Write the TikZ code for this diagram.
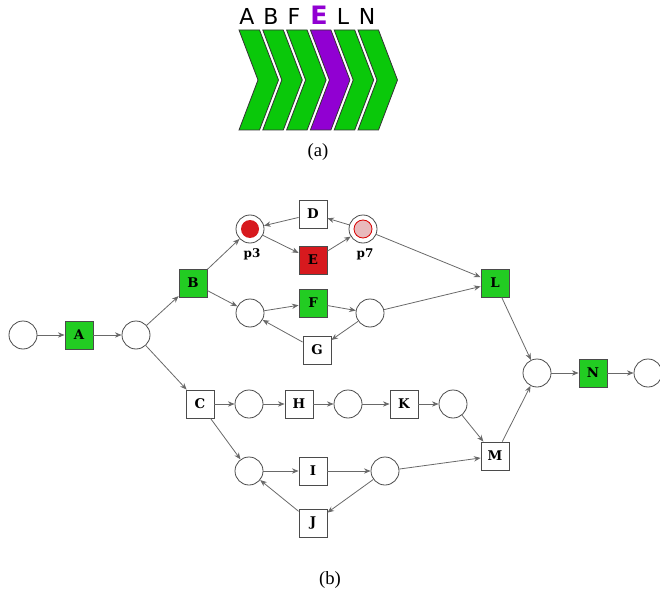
\documentclass[tikz,border=0pt]{standalone}
\usepackage{fontspec}
\setmainfont{Liberation Serif}
\newfontfamily\labfont{DejaVu Serif}
\newfontfamily\topfont{DejaVu Sans}
\usetikzlibrary{arrows.meta}
\definecolor{tgreen}{RGB}{34,204,34}
\definecolor{cgreen}{RGB}{10,200,10}
\definecolor{cpurple}{RGB}{145,0,210}
\definecolor{tred}{RGB}{215,25,30}
\definecolor{tpink}{RGB}{232,185,188}
\definecolor{edgegray}{RGB}{105,105,105}
\definecolor{bordergray}{RGB}{75,75,75}
\tikzset{
  place/.style={circle, draw=bordergray, line width=0.6pt, minimum size=21pt, inner sep=0pt, fill=white},
  trans/.style={rectangle, draw=bordergray, line width=0.6pt, minimum size=21pt, inner sep=0pt, fill=white,
    font=\labfont\fontsize{10}{12}\selectfont\bfseries},
  gtrans/.style={trans, fill=tgreen},
  rtrans/.style={trans, fill=tred},
  plab/.style={font=\labfont\fontsize{9}{11}\selectfont\bfseries, inner sep=0pt},
  arc/.style={draw=edgegray, line width=0.6pt, -{Stealth[length=5pt,width=4pt]}},
  chev/.style={draw=black!80, line width=0.6pt},
  toplet/.style={font=\topfont\fontsize{16.5}{18}\selectfont, inner sep=0pt, anchor=base},
  captext/.style={font=\fontsize{14}{16}\selectfont, inner sep=0pt}
}
\begin{document}
\begin{tikzpicture}[x=0.75pt,y=-0.75pt]
\useasboundingbox (0,0) rectangle (660,599);
% chevrons
\foreach \i/\c in {0/cgreen,1/cgreen,2/cgreen,3/cpurple,4/cgreen,5/cgreen}{
  \begin{scope}[xshift=\i*23.8*0.75pt]
  \draw[chev, fill=\c] (239,30) -- (259.5,30) -- (278.5,80) -- (259.5,130) -- (239,130) -- (258,80) -- cycle;
  \end{scope}
}
\node[toplet] (la) at (247,25) {A};
\node[toplet] (lb) at (271,25) {B};
\node[toplet] (lf) at (294,25) {F};
\node[toplet, font=\topfont\fontsize{19}{20}\selectfont\bfseries, text=cpurple] (le) at (319,25) {E};
\node[toplet] (ll) at (343,25) {L};
\node[toplet] (ln) at (367,25) {N};
\node[captext] (capa) at (318,152) {(a)};

% Petri net
\node[place] (s) at (23,335) {};
\node[gtrans] (A) at (79,335) {A};
\node[place] (c1) at (136,335) {};
\node[gtrans] (B) at (193,283) {B};
\node[place] (p3) at (250,229) {};
\fill[tred] (p3.center) circle (9*0.75pt);
\node[plab] (p3l) at (252,254) {p3};
\node[trans] (D) at (313,214) {D};
\node[rtrans] (E) at (313,260) {E};
\node[place] (p7) at (363,229) {};
\filldraw[fill=tpink, draw=red!85!black, line width=0.6pt] (p7.center) circle (9*0.75pt);
\node[plab] (p7l) at (365,254) {p7};
\node[place] (c2) at (250,313) {};
\node[gtrans] (F) at (313,303) {F};
\node[place] (c3) at (370,313) {};
\node[trans] (G) at (317,350) {G};
\node[gtrans] (L) at (495,283) {L};
\node[trans] (C) at (200,404) {C};
\node[place] (c4) at (249,404) {};
\node[trans] (H) at (299,404) {H};
\node[place] (c5) at (348,404) {};
\node[trans] (K) at (404,404) {K};
\node[place] (c6) at (453,404) {};
\node[trans] (M) at (495,456) {M};
\node[place] (c7) at (249,471) {};
\node[trans] (I) at (313,471) {I};
\node[place] (c8) at (385,471) {};
\node[trans] (J) at (313,523) {J};
\node[place] (c9) at (537,373) {};
\node[gtrans] (N) at (593,373) {N};
\node[place] (e) at (648,373) {};
\node[captext] (capb) at (330,580) {(b)};

\draw[arc] (s) -- (A);
\draw[arc] (A) -- (c1);
\draw[arc] (c1) -- (B);
\draw[arc] (c1) -- (C);
\draw[arc] (B) -- (p3);
\draw[arc] (B) -- (c2);
\draw[arc] (p3) -- (E);
\draw[arc] (E) -- (p7);
\draw[arc] (p7) -- (D);
\draw[arc] (D) -- (p3);
\draw[arc] (p7) -- (L);
\draw[arc] (c2) -- (F);
\draw[arc] (F) -- (c3);
\draw[arc] (c3) -- (G);
\draw[arc] (G) -- (c2);
\draw[arc] (c3) -- (L);
\draw[arc] (L) -- (c9);
\draw[arc] (C) -- (c4);
\draw[arc] (c4) -- (H);
\draw[arc] (H) -- (c5);
\draw[arc] (c5) -- (K);
\draw[arc] (K) -- (c6);
\draw[arc] (c6) -- (M);
\draw[arc] (C) -- (c7);
\draw[arc] (c7) -- (I);
\draw[arc] (I) -- (c8);
\draw[arc] (c8) -- (J);
\draw[arc] (J) -- (c7);
\draw[arc] (c8) -- (M);
\draw[arc] (M) -- (c9);
\draw[arc] (c9) -- (N);
\draw[arc] (N) -- (e);
\end{tikzpicture}
\end{document}
